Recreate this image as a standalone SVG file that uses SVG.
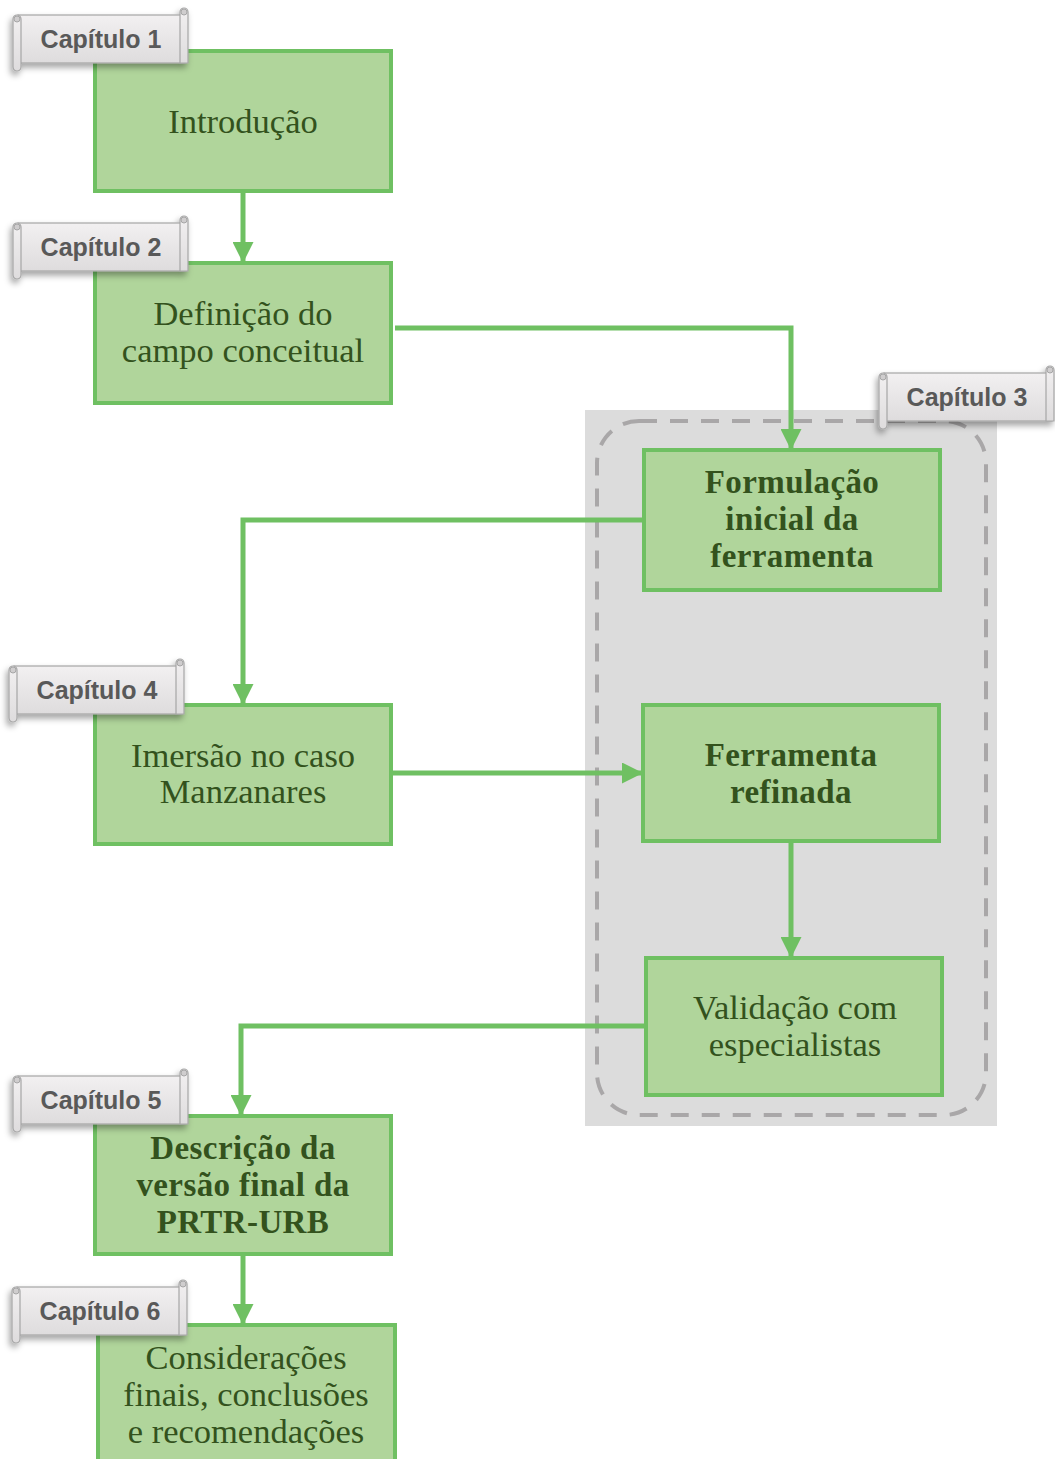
<svg xmlns="http://www.w3.org/2000/svg" xmlns:xlink="http://www.w3.org/1999/xlink" width="1055" height="1459" viewBox="0 0 1055 1459">
  <style>
    .box { fill: #b0d59b; stroke: #6fc062; stroke-width: 4; }
    .txt { font-family: "Liberation Serif", "Times New Roman", serif; font-size: 34.5px; fill: #33521d; text-anchor: middle; }
    .bold { font-weight: bold; font-size: 33px; letter-spacing: 0.4px; }
    .cap { font-family: "Liberation Sans", Arial, sans-serif; font-weight: bold; font-size: 25px; fill: #595959; text-anchor: middle; }
    .link { fill: none; stroke: #6fc062; stroke-width: 5; }
    .scroll { fill: url(#scrollFill); stroke: #a6a6a6; stroke-width: 1.2; }
  </style>
  <defs>
    <linearGradient id="scrollFill" x1="0" y1="0" x2="0" y2="1">
      <stop offset="0" stop-color="#f2f0f1"/>
      <stop offset="1" stop-color="#dedcdd"/>
    </linearGradient>
    <filter id="shadow" x="-20%" y="-30%" width="140%" height="170%">
      <feDropShadow dx="-2" dy="4" stdDeviation="3" flood-color="#000" flood-opacity="0.35"/>
    </filter>
    <marker id="arrow" markerWidth="4.2" markerHeight="4.2" refX="4" refY="2.1" orient="auto" markerUnits="strokeWidth">
      <path d="M0,0 L4.2,2.1 L0,4.2 Z" fill="#6fc062"/>
    </marker>
    <!-- horizontal scroll banner used for the chapter tags -->
    <g id="scroll">
      <g filter="url(#shadow)">
        <rect class="scroll" x="5" y="7" width="168" height="48"/>
        <path class="scroll" d="M167,55 L167,4 A4,4 0 0 1 175,4 L175,55 Z"/>
        <path class="scroll" d="M0,11 A4,4 0 0 1 8,11 L8,59 A4,4 0 0 1 0,59 Z"/>
      </g>
      <circle cx="171" cy="4" r="3" fill="#cfcdce" stroke="#a6a6a6" stroke-width="1"/>
      <circle cx="4" cy="11" r="3" fill="#cfcdce" stroke="#a6a6a6" stroke-width="1"/>
    </g>
  </defs>

  <rect width="1055" height="1459" fill="#ffffff"/>

  <!-- chapter 3 container -->
  <g id="chapter3-group">
    <rect x="585" y="410" width="412" height="716" fill="#dcdcdc"/>
    <rect x="597" y="421" width="389" height="694" rx="42" ry="42" fill="none" stroke="#a9a7a8" stroke-width="4" stroke-dasharray="18 13"/>
  </g>

  <!-- connectors -->
  <g id="connectors">
    <path class="link" d="M243,191 L243,262" marker-end="url(#arrow)"/>
    <path class="link" d="M395,328 L791,328 L791,449" marker-end="url(#arrow)"/>
    <path class="link" d="M643,520 L243,520 L243,704" marker-end="url(#arrow)"/>
    <path class="link" d="M387,773 L642,773" marker-end="url(#arrow)"/>
    <path class="link" d="M791,841 L791,957" marker-end="url(#arrow)"/>
    <path class="link" d="M646,1026 L241,1026 L241,1115" marker-end="url(#arrow)"/>
    <path class="link" d="M243,1254 L243,1324" marker-end="url(#arrow)"/>
  </g>

  <!-- nodes -->
  <g id="node-introducao">
    <rect class="box" x="95" y="51" width="296" height="140"/>
    <text class="txt" x="243" y="133">Introdução</text>
  </g>
  <g id="node-definicao">
    <rect class="box" x="95" y="263" width="296" height="140"/>
    <text class="txt" x="243" y="325">Definição do</text>
    <text class="txt" x="243" y="362">campo conceitual</text>
  </g>
  <g id="node-formulacao">
    <rect class="box" x="644" y="450" width="296" height="140"/>
    <text class="txt bold" x="792" y="493">Formulação</text>
    <text class="txt bold" x="792" y="530">inicial da</text>
    <text class="txt bold" x="792" y="567">ferramenta</text>
  </g>
  <g id="node-imersao">
    <rect class="box" x="95" y="705" width="296" height="139"/>
    <text class="txt" x="243" y="767">Imersão no caso</text>
    <text class="txt" x="243" y="803">Manzanares</text>
  </g>
  <g id="node-refinada">
    <rect class="box" x="643" y="705" width="296" height="136"/>
    <text class="txt bold" x="791" y="766">Ferramenta</text>
    <text class="txt bold" x="791" y="803">refinada</text>
  </g>
  <g id="node-validacao">
    <rect class="box" x="646" y="958" width="296" height="137"/>
    <text class="txt" x="795" y="1019">Validação com</text>
    <text class="txt" x="795" y="1056">especialistas</text>
  </g>
  <g id="node-descricao">
    <rect class="box" x="95" y="1116" width="296" height="138"/>
    <text class="txt bold" x="243" y="1159">Descrição da</text>
    <text class="txt bold" x="243" y="1196">versão final da</text>
    <text class="txt bold" x="243" y="1233">PRTR-URB</text>
  </g>
  <g id="node-consideracoes">
    <rect class="box" x="98" y="1325" width="297" height="140"/>
    <text class="txt" x="246" y="1369">Considerações</text>
    <text class="txt" x="246" y="1406">finais, conclusões</text>
    <text class="txt" x="246" y="1443">e recomendações</text>
  </g>

  <!-- chapter tags -->
  <g id="tag-cap1" transform="translate(13,8)">
    <use xlink:href="#scroll"/>
    <text class="cap" x="88" y="40">Capítulo 1</text>
  </g>
  <g id="tag-cap2" transform="translate(13,216)">
    <use xlink:href="#scroll"/>
    <text class="cap" x="88" y="40">Capítulo 2</text>
  </g>
  <g id="tag-cap3" transform="translate(879,366)">
    <use xlink:href="#scroll"/>
    <text class="cap" x="88" y="40">Capítulo 3</text>
  </g>
  <g id="tag-cap4" transform="translate(9,659)">
    <use xlink:href="#scroll"/>
    <text class="cap" x="88" y="40">Capítulo 4</text>
  </g>
  <g id="tag-cap5" transform="translate(13,1069)">
    <use xlink:href="#scroll"/>
    <text class="cap" x="88" y="40">Capítulo 5</text>
  </g>
  <g id="tag-cap6" transform="translate(12,1280)">
    <use xlink:href="#scroll"/>
    <text class="cap" x="88" y="40">Capítulo 6</text>
  </g>
</svg>
